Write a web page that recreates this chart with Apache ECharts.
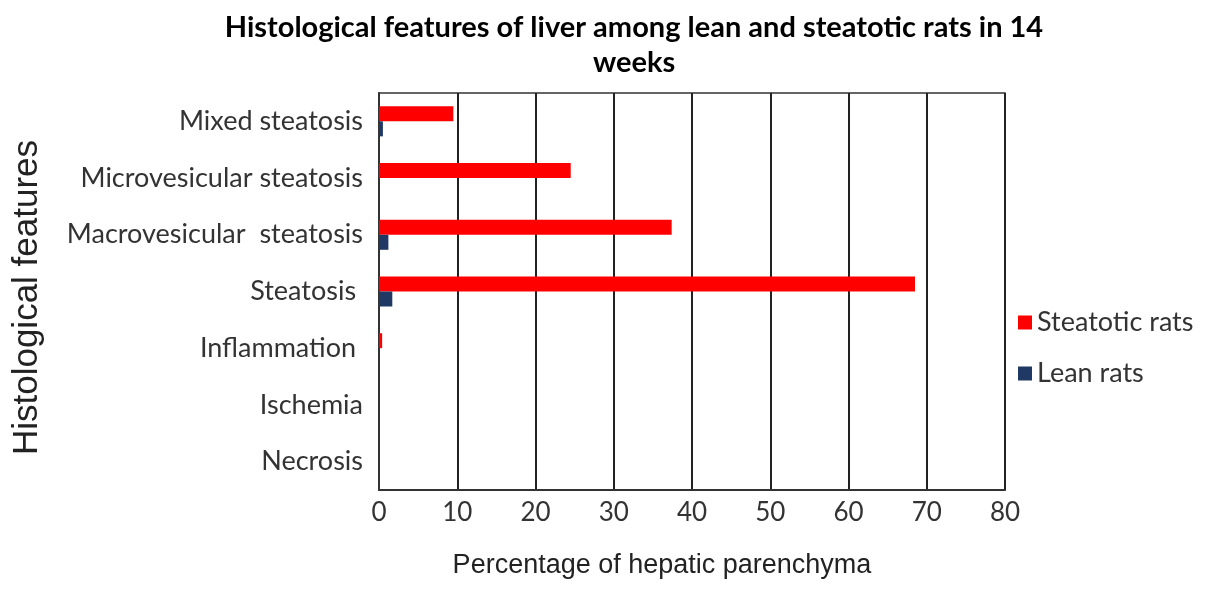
<!DOCTYPE html>
<html><head><meta charset="utf-8">
<script src="https://cdn.jsdelivr.net/npm/echarts@6/dist/echarts.min.js"></script>
<style>html,body{margin:0;padding:0;background:#fff}#c{width:1205px;height:592px}</style>
</head><body><div id="c"></div>
<script>
const categories = ["Mixed steatosis","Microvesicular steatosis","Macrovesicular  steatosis","Steatosis ","Inflammation ","Ischemia","Necrosis"];
const steatoticRats = [9.5, 24.5, 37.4, 68.5, 0.4, 0, 0];
const leanRats = [0.5, 0, 1.2, 1.7, 0, 0, 0];
const xTicks = [0,10,20,30,40,50,60,70,80];

const chart = echarts.init(document.getElementById('c'));
const lab = "Lato";
chart.setOption({
  animation:false,
  backgroundColor:'#fff',
  title:{
    text:"Histological features of liver among lean and steatotic rats in 14\nweeks",
    left:629, top:5, textAlign:'center',
    textStyle:{fontFamily:lab,fontWeight:'bold',fontSize:29,color:'#000',lineHeight:35}
  },
  legend:{
    orient:'vertical', left:1013, top:304, itemGap:24, itemWidth:14, itemHeight:14, icon:'rect',
    data:['Steatotic rats','Lean rats'],
    textStyle:{fontFamily:lab,fontSize:27,color:'#333'}
  },
  grid:{left:379,right:200,top:93,bottom:102,show:true,borderColor:'#333',borderWidth:1.5},
  xAxis:{
    type:'value',min:0,max:80,interval:10,
    name:'Percentage of hepatic parenchyma',nameLocation:'middle',nameGap:62,
    nameTextStyle:{fontFamily:'Liberation Sans',fontSize:27,color:'#222',padding:[0,60,0,0]},
    axisLine:{show:true,lineStyle:{color:'#333',width:2}},
    axisTick:{show:false},
    axisLabel:{fontFamily:lab,fontSize:26,color:'#333',margin:10,
      formatter:v=>xTicks.includes(v)?String(v):''},
    splitLine:{show:true,lineStyle:{color:'#222',width:2}}
  },
  yAxis:{
    type:'category',inverse:true,data:categories,
    name:'Histological features',nameLocation:'middle',nameGap:334,nameRotate:90,
    nameTextStyle:{fontFamily:'Liberation Sans',fontSize:35,color:'#222',padding:[0,12,0,0]},
    axisLine:{show:true,lineStyle:{color:'#333',width:2}},
    axisTick:{show:false},
    axisLabel:{fontFamily:lab,fontSize:27,color:'#333',margin:16}
  },
  series:[
    {name:'Steatotic rats',type:'bar',data:steatoticRats,itemStyle:{color:'#ff0000'},barWidth:15,barGap:'0%'},
    {name:'Lean rats',type:'bar',data:leanRats,itemStyle:{color:'#1f3864'},barWidth:15,barGap:'0%'}
  ]
});
</script></body></html>
